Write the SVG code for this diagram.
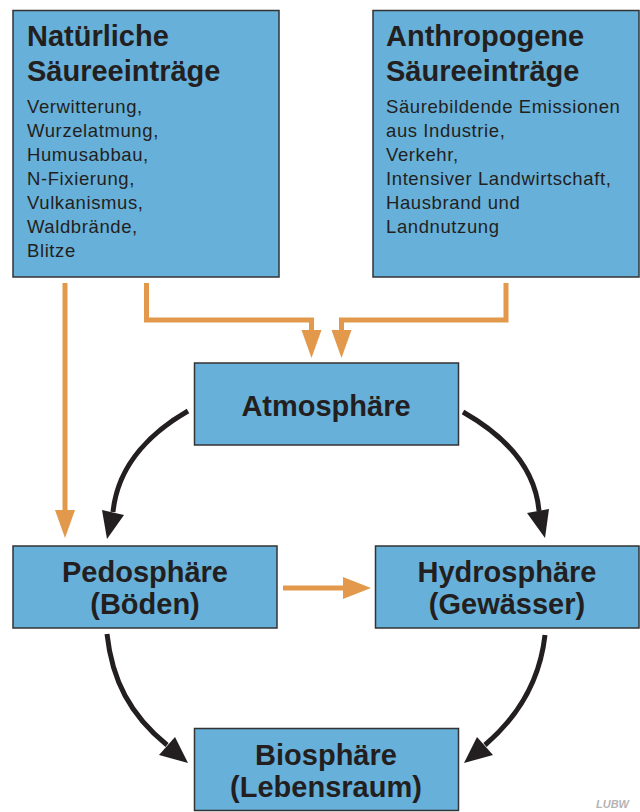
<svg xmlns="http://www.w3.org/2000/svg" width="640" height="812" viewBox="0 0 640 812">
<style>
.box{fill:#67b0d9;stroke:#333333;stroke-width:1.5}
.title{font-family:"Liberation Sans",Arial,sans-serif;font-weight:bold;font-size:29px;fill:#231f20}
.body{font-family:"Liberation Sans",Arial,sans-serif;font-size:18.5px;letter-spacing:0.6px;fill:#231f20}
.ctr{text-anchor:middle}
.org{fill:none;stroke:#e2994b;stroke-width:5}
.orgh{fill:#e2994b}
.blk{fill:none;stroke:#231f20;stroke-width:5}
.blkh{fill:#231f20}
</style>
<rect width="640" height="812" fill="#ffffff"/>
<g id="connectors">
  <path class="org" d="M65,283 V512"/>
  <polygon class="orgh" points="55,510 75,510 65,538"/>
  <path class="org" d="M146.5,283 V320 H311.5 V332"/>
  <polygon class="orgh" points="301.5,330 321.5,330 311.5,358"/>
  <path class="org" d="M506,283 V320 H341.5 V332"/>
  <polygon class="orgh" points="331.5,330 351.5,330 341.5,358"/>
  <path class="org" d="M283,588 H345"/>
  <polygon class="orgh" points="343,577 343,599 371,588"/>
  <path class="blk" d="M188,411 C155,430 118,462 113,512"/>
  <polygon class="blkh" points="102,510 124,515 107,539"/>
  <path class="blk" d="M463,412 C500,433 535,465 539,511"/>
  <polygon class="blkh" points="527,513 549,509 545,538"/>
  <path class="blk" d="M107,634 C112,680 130,715 167,745"/>
  <polygon class="blkh" points="159,755 175,737 188,763"/>
  <path class="blk" d="M545,635 C540,680 520,715 485,745"/>
  <polygon class="blkh" points="493,755 477,737 464,763"/>
</g>
<g id="natuerlich">
  <rect class="box" x="13" y="10.5" width="266" height="266.5"/>
  <text class="title" x="27" y="46">Natürliche</text>
  <text class="title" x="27" y="81">Säureeinträge</text>
  <text class="body" x="27" y="113">Verwitterung,</text>
  <text class="body" x="27" y="137">Wurzelatmung,</text>
  <text class="body" x="27" y="161">Humusabbau,</text>
  <text class="body" x="27" y="185">N-Fixierung,</text>
  <text class="body" x="27" y="209">Vulkanismus,</text>
  <text class="body" x="27" y="233">Waldbrände,</text>
  <text class="body" x="27" y="257">Blitze</text>
</g>
<g id="anthropogen">
  <rect class="box" x="373" y="10.5" width="266" height="266.5"/>
  <text class="title" x="386" y="46">Anthropogene</text>
  <text class="title" x="386" y="81">Säureeinträge</text>
  <text class="body" x="386" y="113">Säurebildende Emissionen</text>
  <text class="body" x="386" y="137">aus Industrie,</text>
  <text class="body" x="386" y="161">Verkehr,</text>
  <text class="body" x="386" y="185">Intensiver Landwirtschaft,</text>
  <text class="body" x="386" y="209">Hausbrand und</text>
  <text class="body" x="386" y="233">Landnutzung</text>
</g>
<g id="atmosphaere">
  <rect class="box" x="194.5" y="363" width="264" height="82"/>
  <text class="title ctr" x="326" y="416">Atmosphäre</text>
</g>
<g id="pedosphaere">
  <rect class="box" x="13" y="546" width="264" height="82"/>
  <text class="title ctr" x="145" y="582">Pedosphäre</text>
  <text class="title ctr" x="145" y="614">(Böden)</text>
</g>
<g id="hydrosphaere">
  <rect class="box" x="375.5" y="546" width="263.5" height="82"/>
  <text class="title ctr" x="507" y="582">Hydrosphäre</text>
  <text class="title ctr" x="507" y="614">(Gewässer)</text>
</g>
<g id="biosphaere">
  <rect class="box" x="194.5" y="728.5" width="264" height="82"/>
  <text class="title ctr" x="326" y="765">Biosphäre</text>
  <text class="title ctr" x="326" y="797">(Lebensraum)</text>
</g>
<g id="logo">
  <text x="596" y="808" font-family="'Liberation Sans',Arial,sans-serif" font-weight="bold" font-style="italic" font-size="11" fill="#b5b5b5">LUBW</text>
</g>
</svg>
